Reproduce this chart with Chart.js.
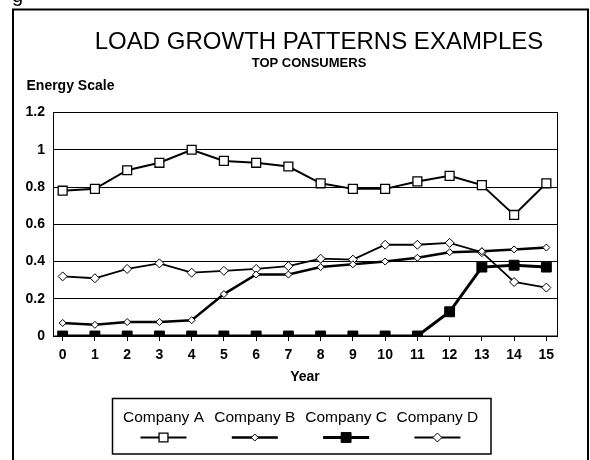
<!DOCTYPE html>
<html>
<head>
<meta charset="utf-8">
<script src="https://cdn.jsdelivr.net/npm/chart.js@4.4.0/dist/chart.umd.min.js"></script>
<style>
  html, body { margin: 0; padding: 0; background: #fff; }
  canvas { display: block; }
</style>
</head>
<body>
<canvas id="load-chart" width="590" height="460"></canvas>
<script>
// values
const years = [0, 1, 2, 3, 4, 5, 6, 7, 8, 9, 10, 11, 12, 13, 14, 15];
const yTicks = [0, 0.2, 0.4, 0.6, 0.8, 1, 1.2];
const companyA = [0.78, 0.79, 0.89, 0.93, 1.0, 0.94, 0.93, 0.91, 0.82, 0.79, 0.79, 0.83, 0.86, 0.81, 0.65, 0.82];
const companyB = [0.07, 0.06, 0.075, 0.075, 0.085, 0.225, 0.33, 0.33, 0.37, 0.385, 0.40, 0.42, 0.45, 0.455, 0.465, 0.475];
const companyC = [0, 0, 0, 0, 0, 0, 0, 0, 0, 0, 0, 0, 0.13, 0.37, 0.38, 0.37];
const companyD = [0.32, 0.31, 0.36, 0.39, 0.34, 0.35, 0.36, 0.375, 0.415, 0.41, 0.49, 0.49, 0.50, 0.45, 0.29, 0.26];

const FONT = "'Liberation Sans', Arial, sans-serif";

function pts(vals) {
  return years.map((y, i) => ({ x: y, y: vals[i] }));
}

// frame, headings and the two-row legend of the original
const decor = {
  id: 'decor',
  beforeDraw(chart) {
    const c = chart.ctx;
    c.save();
    c.fillStyle = '#fff';
    c.fillRect(0, 0, chart.width, chart.height);
    c.restore();
  },
  afterDraw(chart) {
    const c = chart.ctx;
    const a = chart.chartArea;
    c.save();
    c.fillStyle = '#000';
    c.strokeStyle = '#000';

    // cut-off bit of the caption above the figure
    c.font = '20px ' + FONT;
    c.textAlign = 'left';
    c.textBaseline = 'alphabetic';
    c.fillText('g', 12, 2);

    // outer frame
    c.lineWidth = 2;
    c.strokeRect(13, 9.5, 575, 460);

    // plot box
    c.lineWidth = 1;
    c.strokeRect(a.left + 0.5, a.top, a.right - a.left, a.bottom - a.top);

    c.textAlign = 'center';
    c.font = '24px ' + FONT;
    c.fillText('LOAD GROWTH PATTERNS EXAMPLES', 319, 49);
    c.font = 'bold 13px ' + FONT;
    c.fillText('TOP CONSUMERS', 309, 66.7);
    c.textAlign = 'left';
    c.font = 'bold 14px ' + FONT;
    c.fillText('Energy Scale', 26.5, 90);

    // legend
    c.lineWidth = 1.5;
    c.strokeRect(112.5, 398.5, 378.5, 55.5);
    c.textAlign = 'center';
    c.font = '15.5px ' + FONT;
    chart.data.datasets.forEach((ds, i) => {
      const cx = 163.5 + i * 91.3;
      c.fillStyle = '#000';
      c.fillText(ds.label, cx, 421.7);
      c.beginPath();
      c.lineWidth = ds.borderWidth;
      c.strokeStyle = ds.borderColor;
      c.moveTo(cx - 23, 437.5);
      c.lineTo(cx + 23, 437.5);
      c.stroke();
      c.fillStyle = ds.pointBackgroundColor;
      c.strokeStyle = ds.pointBorderColor;
      c.lineWidth = ds.pointBorderWidth;
      Chart.helpers.drawPoint(c, { pointStyle: ds.pointStyle, radius: ds.pointRadius, rotation: 0, borderWidth: ds.pointBorderWidth }, cx, 437.5);
    });
    c.restore();
  }
};

new Chart(document.getElementById('load-chart'), {
  type: 'line',
  data: {
    datasets: [
      {
        label: 'Company A',
        data: pts(companyA),
        borderColor: '#000',
        borderWidth: 2,
        pointStyle: 'rect',
        pointRadius: 6.3,
        pointBackgroundColor: '#fff',
        pointBorderColor: '#000',
        pointBorderWidth: 1.3
      },
      {
        label: 'Company B',
        data: pts(companyB),
        borderColor: '#000',
        borderWidth: 2.5,
        pointStyle: 'rectRot',
        pointRadius: 3.5,
        pointBackgroundColor: '#fff',
        pointBorderColor: '#000',
        pointBorderWidth: 1
      },
      {
        label: 'Company C',
        data: pts(companyC),
        borderColor: '#000',
        borderWidth: 3,
        pointStyle: 'rect',
        pointRadius: 7,
        pointBackgroundColor: '#000',
        pointBorderColor: '#000',
        pointBorderWidth: 1
      },
      {
        label: 'Company D',
        data: pts(companyD),
        borderColor: '#000',
        borderWidth: 1.8,
        pointStyle: 'rectRot',
        pointRadius: 4.5,
        pointBackgroundColor: '#fff',
        pointBorderColor: '#000',
        pointBorderWidth: 1
      }
    ]
  },
  options: {
    responsive: false,
    animation: false,
    events: [],
    layout: { padding: { left: 0, right: 33, top: 112.5, bottom: 74 } },
    plugins: {
      legend: { display: false },
      title: { display: false },
      tooltip: { enabled: false }
    },
    elements: { line: { tension: 0 } },
    scales: {
      x: {
        type: 'linear',
        min: -0.3,
        max: 15.33,
        afterBuildTicks: s => { s.ticks = years.map(v => ({ value: v })); },
        afterFit: s => { s.height = 50; },
        grid: { drawOnChartArea: false, drawTicks: true, tickLength: 5, color: '#000', lineWidth: 1 },
        border: { display: true, color: '#000', width: 1 },
        ticks: { color: '#000', font: { family: FONT, size: 14, weight: 'bold' }, padding: 6, maxRotation: 0, autoSkip: false },
        title: { display: true, text: 'Year', color: '#000', font: { family: FONT, size: 14, weight: 'bold' }, padding: 0 }
      },
      y: {
        min: 0,
        max: 1.2,
        afterBuildTicks: s => { s.ticks = yTicks.map(v => ({ value: v })); },
        afterFit: s => { s.width = 53; },
        grid: { drawTicks: false, color: '#000', lineWidth: 1 },
        border: { display: true, color: '#000', width: 1 },
        ticks: { color: '#000', font: { family: FONT, size: 14, weight: 'bold' }, padding: 8, callback: v => String(v) }
      }
    }
  },
  plugins: [decor]
});
</script>
</body>
</html>
